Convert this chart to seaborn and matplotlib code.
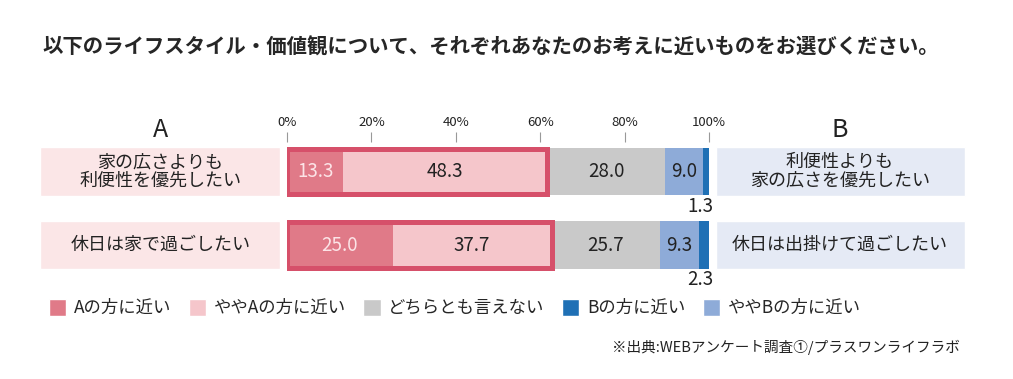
import seaborn as sns
import pandas as pd
import matplotlib.pyplot as plt
from matplotlib.patches import Patch

items = ['家の広さよりも\n利便性を優先したい', '休日は家で過ごしたい']
items_b = ['利便性よりも\n家の広さを優先したい', '休日は出掛けて過ごしたい']
segments = ['Aの方に近い', 'ややAの方に近い', 'どちらとも言えない', 'ややBの方に近い', 'Bの方に近い']
a_near = [13.3, 25.0]
a_some = [48.3, 37.7]
neutral = [28.0, 25.7]
b_some = [9.0, 9.3]
b_near = [1.3, 2.3]
colors = ['#e07a88', '#f5c6cb', '#c9c9c9', '#8eabd8', '#1f70b5']
legend_order = [0, 1, 2, 4, 3]
ticks = [0, 20, 40, 60, 80, 100]

title = '以下のライフスタイル・価値観について、それぞれあなたのお考えに近いものをお選びください。'
source = '※出典:WEBアンケート調査①/プラスワンライフラボ'

df = pd.DataFrame({'item': items, segments[0]: a_near, segments[1]: a_some,
                   segments[2]: neutral, segments[3]: b_some, segments[4]: b_near})
cum = df[segments].cumsum(axis=1)

sns.set_style('white')
plt.rcParams['font.family'] = ['Noto Sans CJK JP', 'DejaVu Sans']

fig = plt.figure(figsize=(10.13, 3.79), dpi=100)
ax = fig.add_axes([287 / 1013, 1 - 280 / 379, 422 / 1013, 138 / 379])

# stacked bars: draw cumulative totals from the longest down
for i in reversed(range(len(segments))):
    sns.barplot(x=cum[segments[i]], y=df['item'], orient='h', color=colors[i],
                width=0.64, saturation=1, linewidth=0, ax=ax)

# label boxes on both sides
ax.barh([0, 1], 56.8, left=-58.5, height=0.66, color='#fbe6e7', clip_on=False, zorder=0)
ax.barh([0, 1], 59.0, left=101.7, height=0.66, color='#e5eaf5', clip_on=False, zorder=0)

# outline around the A side
a_total = [a + b for a, b in zip(a_near, a_some)]
ax.barh([0, 1], a_total, height=0.62, fill=False, edgecolor='#d6506a', linewidth=3.6, zorder=5)

for r in range(len(items)):
    ax.text(-30, r, items[r], ha='center', va='center', fontsize=13, color='#222222',
            linespacing=1.05, clip_on=False)
    ax.text(131, r, items_b[r], ha='center', va='center', fontsize=13, color='#222222',
            linespacing=1.05, clip_on=False)
    starts = [0] + list(cum.iloc[r, :-1])
    vals = list(df[segments].iloc[r])
    for i, (s, v) in enumerate(zip(starts, vals)):
        if i == 4:
            ax.text(98, r + 0.47, f'{v:.1f}', ha='center', va='center', fontsize=13.5, color='#222222')
        else:
            c = '#fce4e7' if i == 0 else '#222222'
            ax.text(s + v / 2, r, f'{v:.1f}', ha='center', va='center', fontsize=13.5, color=c, zorder=6)

ax.text(-30, -0.56, 'A', ha='center', va='center', fontsize=18, color='#222222')
ax.text(131, -0.56, 'B', ha='center', va='center', fontsize=18, color='#222222')

ax.set_xlim(0, 100)
ax.set_ylim(1.476, -0.401)
ax.xaxis.tick_top()
ax.set_xticks(ticks)
ax.set_xticklabels([f'{t}%' for t in ticks], fontsize=9.5, color='#222222')
ax.tick_params(axis='x', length=7, width=0.8, color='#999999', direction='out', pad=2, top=True)
ax.set_yticks([])
ax.set_xlabel('')
ax.set_ylabel('')
for sp in ax.spines.values():
    sp.set_visible(False)

handles = [Patch(facecolor=colors[i], label=segments[i]) for i in legend_order]
fig.legend(handles=handles, loc='center left', bbox_to_anchor=(33 / 1013, 1 - 308 / 379),
           ncol=5, frameon=False, fontsize=12.5, handlelength=1.0, handleheight=1.1,
           handletextpad=0.45, columnspacing=1.0)

fig.text(42 / 1013, 1 - 47 / 379, title, ha='left', va='center', fontsize=14.7, fontweight='bold')
fig.text(960 / 1013, 1 - 347 / 379, source, ha='right', va='center', fontsize=10.5, color='#222222')

fig.savefig('out.png', dpi=100)
